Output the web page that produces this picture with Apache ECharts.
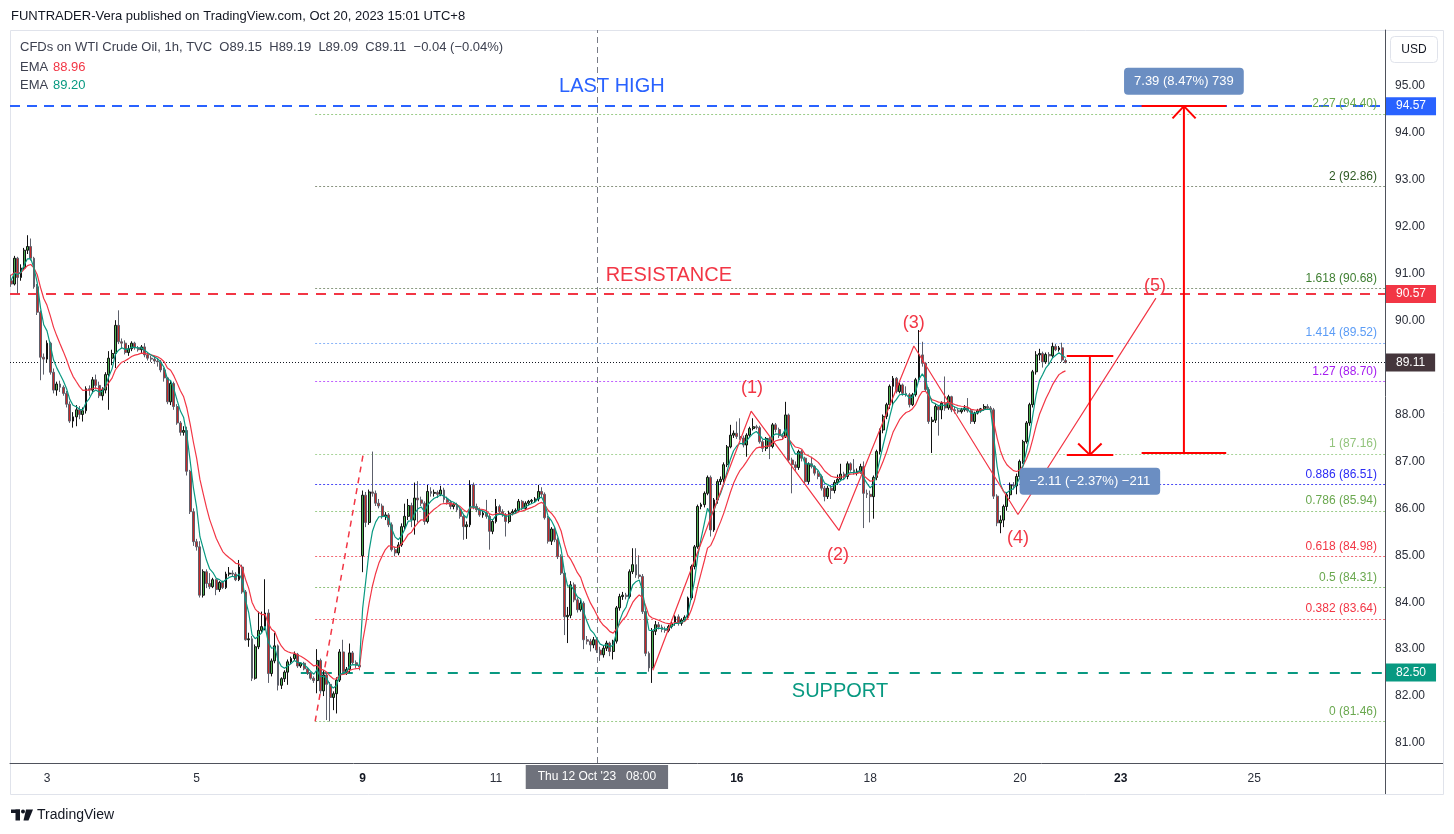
<!DOCTYPE html>
<html><head><meta charset="utf-8">
<script src="https://cdn.jsdelivr.net/npm/echarts@6/dist/echarts.min.js"></script>
<style>html,body{margin:0;padding:0;background:#fff}#c{width:1454px;height:834px}</style>
</head><body><div id="c"></div>
<script>
// ================= DATA =================
// hourly candles [open, high, low, close], bar 0 = Oct 2 13:00 (UTC+8)
const candles = [
[90.85,90.98,90.72,90.78],[90.78,91.38,90.75,91.33],[91.33,91.36,90.58,90.92],[90.92,91.20,90.85,91.12],[91.12,91.55,91.08,91.50],
[91.50,91.82,91.42,91.58],[91.58,91.75,91.28,91.33],[91.33,91.36,90.68,90.72],[90.72,90.78,90.12,90.18],[90.18,90.22,88.73,89.22],
[89.22,89.30,88.85,89.18],[89.18,89.58,89.10,89.52],[89.52,89.55,88.85,88.90],[88.90,88.98,88.45,88.52],[88.52,88.70,88.40,88.65],
[88.65,88.72,88.48,88.58],[88.58,88.62,88.40,88.45],[88.45,88.50,88.15,88.22],[88.22,88.28,87.82,87.86],[87.86,88.05,87.72,87.95],
[87.95,88.20,87.75,88.10],[88.10,88.18,87.90,88.00],[88.00,88.15,87.85,88.08],[88.08,88.60,88.02,88.55],[88.55,88.62,88.40,88.52],
[88.52,88.80,88.45,88.74],[88.74,88.85,88.55,88.62],[88.62,88.70,88.35,88.40],[88.40,88.58,88.30,88.52],[88.52,88.90,88.45,88.85],
[88.85,89.35,88.10,89.20],[89.20,89.38,89.05,89.30],[89.30,90.01,88.99,89.90],[89.90,90.22,89.50,89.55],[89.55,89.62,89.40,89.52],
[89.52,89.58,89.28,89.32],[89.32,89.48,89.25,89.40],[89.40,89.56,89.35,89.52],[89.52,89.55,89.38,89.42],[89.42,89.46,89.34,89.38],
[89.38,89.48,89.30,89.44],[89.44,89.52,89.22,89.27],[89.27,89.33,89.15,89.20],[89.20,89.25,89.12,89.18],[89.18,89.25,89.08,89.14],
[89.14,89.20,89.02,89.12],[89.12,89.16,88.90,88.95],[88.95,89.00,88.70,88.78],[88.78,88.80,88.22,88.27],[88.27,88.72,88.20,88.66],
[88.66,88.70,88.10,88.17],[88.17,88.22,87.78,87.82],[87.82,87.86,87.55,87.62],[87.62,87.75,87.55,87.66],[87.66,87.74,86.70,86.79],
[86.79,86.82,85.88,85.93],[85.93,86.00,85.20,85.29],[85.29,85.35,85.10,85.18],[85.18,85.30,84.10,84.15],[84.15,84.70,84.10,84.65],
[84.65,84.70,84.30,84.40],[84.40,84.62,84.28,84.33],[84.33,84.52,84.30,84.48],[84.48,84.50,84.15,84.27],[84.27,84.45,84.22,84.42],
[84.42,84.46,84.28,84.31],[84.31,84.65,84.28,84.60],[84.60,84.75,84.55,84.62],[84.62,84.68,84.55,84.60],[84.60,84.64,84.45,84.48],
[84.48,84.90,84.45,84.75],[84.75,84.80,84.18,84.22],[84.22,84.26,83.18,83.20],[83.20,83.35,83.05,83.22],[83.22,83.28,82.32,82.38],
[82.38,83.10,82.35,83.05],[83.05,83.80,83.00,83.40],[83.40,83.80,83.35,83.48],[83.48,84.49,83.40,83.77],[83.77,83.85,82.28,82.48],
[82.48,82.80,82.42,82.75],[82.75,83.35,82.70,83.07],[83.07,83.10,82.12,82.23],[82.23,82.40,82.15,82.37],[82.37,82.55,82.30,82.51],
[82.51,82.78,82.24,82.73],[82.73,82.84,82.68,82.80],[82.80,82.95,82.76,82.89],[82.89,82.92,82.60,82.64],[82.64,82.72,82.60,82.70],
[82.70,82.73,82.55,82.58],[82.58,82.60,82.45,82.49],[82.49,82.52,82.35,82.38],[82.38,82.42,82.28,82.33],[82.33,83.00,82.06,82.76],
[82.76,82.80,82.05,82.11],[82.11,82.55,82.00,82.45],[82.45,82.50,81.49,82.25],[82.25,82.30,81.46,81.97],[81.97,82.10,81.70,82.05],
[82.05,82.40,81.63,82.34],[82.34,83.00,82.30,82.94],[82.94,83.20,82.48,82.52],[82.52,82.62,82.45,82.57],[82.57,83.12,82.50,82.92],
[82.92,82.96,82.68,82.71],[82.71,82.76,82.60,82.66],[82.66,82.72,82.55,82.62],
[84.99,86.38,84.64,86.28],[86.28,86.35,85.60,85.70],
[85.70,86.40,85.65,86.35],[86.35,87.21,86.25,86.32],[86.32,86.38,86.05,86.11],[86.11,86.20,86.00,86.05],[86.05,86.10,85.78,85.83],
[85.83,85.92,85.75,85.86],[85.86,85.90,85.60,85.65],[85.65,85.70,85.08,85.12],[85.12,85.18,84.98,85.05],[85.05,85.28,85.00,85.22],
[85.22,85.68,85.18,85.61],[85.61,86.10,85.55,85.83],[85.83,86.20,85.75,86.06],[86.06,86.12,85.60,85.75],[85.75,86.55,85.44,86.22],
[86.22,86.58,85.70,86.18],[86.18,86.25,86.05,86.11],[86.11,86.15,85.65,85.72],[85.72,86.50,85.68,86.36],[86.36,86.45,86.25,86.32],
[86.32,86.40,86.25,86.34],[86.34,86.38,86.22,86.30],[86.30,86.48,86.26,86.39],[86.39,86.44,86.12,86.19],[86.19,86.25,86.08,86.13],
[86.13,86.18,85.98,86.04],[86.04,86.12,85.98,86.08],[86.08,86.12,85.92,85.97],[85.97,86.02,85.78,85.83],[85.83,85.88,85.33,85.61],
[85.61,85.72,85.35,85.65],[85.65,86.60,85.60,86.50],[86.50,86.55,85.98,86.04],[86.04,86.10,85.92,85.97],[85.97,86.02,85.82,85.86],
[85.86,85.95,85.80,85.90],[85.90,86.18,85.78,85.83],[85.83,85.88,85.12,85.51],[85.51,85.76,85.45,85.72],[85.72,86.20,85.68,86.04],
[86.04,86.08,85.88,85.93],[85.93,85.98,85.82,85.86],[85.86,85.90,85.40,85.72],[85.72,85.95,85.68,85.90],[85.90,85.98,85.85,85.93],
[85.93,86.00,85.88,85.96],[85.96,86.20,85.92,86.15],[86.15,86.18,85.96,86.00],[86.00,86.15,85.96,86.11],[86.11,86.18,86.06,86.15],
[86.15,86.20,86.10,86.17],[86.17,86.24,86.12,86.20],[86.20,86.50,86.15,86.36],[86.36,86.45,86.22,86.30],[86.30,86.34,85.76,85.80],
[85.80,85.84,85.25,85.30],[85.30,85.60,85.22,85.56],[85.56,85.60,85.28,85.33],[85.33,85.38,84.92,84.97],[84.97,85.02,84.58,84.62],
[84.62,84.66,83.30,83.69],[83.69,83.90,83.13,83.72],[83.72,84.45,83.66,84.37],[84.37,84.42,84.00,84.05],[84.05,84.10,83.78,83.84],
[83.84,84.05,83.80,83.98],[83.98,84.02,83.00,83.20],[83.20,83.28,83.10,83.17],[83.17,83.22,82.95,83.09],[83.09,83.26,83.02,83.20],
[83.20,83.24,82.92,82.98],[82.98,83.05,82.75,82.88],[82.88,83.08,82.82,83.02],[83.02,83.18,82.96,83.13],[83.13,83.16,82.85,82.95],
[82.95,83.20,82.78,83.17],[83.17,83.92,83.12,83.88],[83.88,84.18,83.82,84.12],[84.12,84.22,84.05,84.15],[84.15,84.20,84.06,84.12],
[84.12,84.70,84.08,84.65],[84.65,85.15,84.60,84.80],[84.80,85.15,84.52,84.58],[84.58,85.00,84.50,84.55],[84.55,84.60,83.75,83.80],
[83.80,83.85,82.85,82.91],[82.91,82.95,82.52,82.60],[82.60,83.45,82.28,83.38],[83.38,83.60,83.30,83.52],[83.52,83.58,83.42,83.47],
[83.47,83.52,83.36,83.42],[83.42,83.48,83.35,83.40],[83.40,83.52,83.36,83.48],[83.48,83.60,83.44,83.55],[83.55,83.72,83.50,83.69],
[83.69,83.74,83.50,83.55],[83.55,83.66,83.50,83.62],[83.62,83.72,83.58,83.68],[83.68,84.12,83.64,84.09],[84.09,84.80,84.05,84.76],
[84.76,85.22,84.70,85.18],[85.18,86.08,85.14,86.04],[86.04,86.12,85.98,86.08],[86.08,86.36,86.02,86.32],[86.32,86.70,86.28,86.66],
[86.66,86.70,85.40,85.54],[85.54,86.22,85.50,86.18],[86.18,86.62,86.10,86.57],[86.57,86.68,86.50,86.62],[86.62,86.98,86.55,86.93],
[86.93,87.35,86.88,87.31],[87.31,87.78,87.28,87.56],[87.56,87.66,87.50,87.60],[87.60,87.85,87.48,87.53],[87.53,87.92,87.46,87.50],
[87.50,87.55,87.30,87.35],[87.35,87.60,87.10,87.56],[87.56,87.74,87.52,87.70],[87.70,87.92,87.66,87.74],[87.74,87.78,87.68,87.72],
[87.72,87.76,87.38,87.42],[87.42,87.46,87.20,87.28],[87.28,87.52,87.22,87.49],[87.49,87.52,87.05,87.32],[87.32,87.82,87.28,87.78],
[87.78,87.82,87.62,87.68],[87.68,87.72,87.50,87.55],[87.55,87.60,87.46,87.53],[87.53,88.27,87.50,87.99],[87.99,88.02,86.98,87.03],
[87.03,87.08,86.32,86.93],[86.93,87.00,86.80,86.87],[86.87,87.25,86.82,87.21],[87.21,87.25,87.00,87.07],[87.07,87.10,86.52,86.57],
[86.57,86.98,86.52,86.95],[86.95,87.10,86.85,86.89],[86.89,86.92,86.70,86.75],[86.75,86.80,86.62,86.68],[86.68,86.72,86.38,86.43],
[86.43,86.48,86.15,86.25],[86.25,86.48,86.20,86.43],[86.43,86.50,86.20,86.38],[86.38,86.60,86.32,86.55],[86.55,86.72,86.50,86.62],
[86.62,86.95,86.58,86.73],[86.73,86.78,86.60,86.68],[86.68,87.00,86.62,86.95],[86.95,86.98,86.78,86.82],[86.82,87.05,86.72,86.77],
[86.77,86.85,86.70,86.79],[86.79,86.95,86.74,86.89],[86.89,87.00,85.58,86.32],[86.32,86.40,86.22,86.30],[86.30,86.38,85.70,86.25],
[86.25,86.70,85.78,86.66],[86.66,87.25,86.60,87.21],[87.21,87.70,87.15,87.67],[87.67,88.00,87.60,87.96],[87.96,88.25,87.90,88.21],
[88.21,88.64,88.12,88.60],[88.60,88.82,88.20,88.77],[88.77,88.80,88.45,88.49],[88.49,88.68,88.45,88.63],[88.63,88.66,88.40,88.45],
[88.45,88.60,88.38,88.42],[88.42,88.46,88.15,88.21],[88.21,88.46,88.18,88.42],[88.42,88.78,88.38,88.74],[88.74,89.80,88.70,89.27],
[89.27,89.55,89.02,89.09],[89.09,89.12,88.48,88.53],[88.53,88.58,87.80,87.85],[87.85,87.95,87.18,87.88],[87.88,88.22,87.82,88.17],
[88.17,88.20,87.55,88.10],[88.10,88.28,87.90,88.24],[88.24,88.81,88.08,88.14],[88.14,88.42,88.10,88.38],[88.38,88.40,88.05,88.10],
[88.10,88.16,88.02,88.08],[88.08,88.12,88.02,88.06],[88.06,88.14,88.02,88.10],[88.10,88.20,88.06,88.14],[88.14,88.35,88.04,88.08],
[88.08,88.12,87.80,87.85],[87.85,88.06,87.80,88.03],[88.03,88.12,88.00,88.08],[88.08,88.14,88.04,88.12],[88.12,88.22,88.08,88.17],
[88.17,88.22,88.10,88.14],[88.14,88.18,88.05,88.10],[88.10,88.14,86.20,86.26],[86.26,86.30,85.62,85.69],[85.69,85.85,85.47,85.75],
[85.75,86.08,85.60,86.04],[86.04,86.33,85.95,86.29],[86.29,86.55,86.20,86.50],[86.50,86.56,86.40,86.48],[86.48,86.74,86.30,86.68],
[86.68,87.04,86.62,87.00],[87.00,87.46,86.95,87.42],[87.42,87.86,87.38,87.82],[87.82,88.25,87.76,88.21],[88.21,88.95,88.15,88.91],
[88.91,89.35,88.85,89.27],[89.27,89.40,89.15,89.30],[89.30,89.34,89.00,89.12],[89.12,89.32,89.08,89.28],[89.28,89.33,89.05,89.25],
[89.25,89.53,89.20,89.45],[89.45,89.50,89.35,89.38],[89.38,89.46,89.34,89.42],[89.42,89.53,89.12,89.16],[89.15,89.19,89.09,89.11]
];

// time axis (bar index) tick labels
const xTicks = [11, 57, 108, 149, 223, 264, 310, 341, 382];
const xTickLabels = ['3', '5', '9', '11', '16', '18', '20', '23', '25'];
const xTickBold = ['9', '16', '23'];
const yTicks = [81,82,83,84,85,86,87,88,89,90,91,92,93,94,95];

// EMA indicators (periods, value just before the first bar)
const emaPeriods = [5, 12];
const emaSeeds = [90.90, 91.00];

// Fibonacci levels
const fibRatios = ['0','0.382','0.5','0.618','0.786','0.886','1','1.27','1.414','1.618','2','2.27'];
const fibValues = [81.46, 83.64, 84.31, 84.98, 85.94, 86.51, 87.16, 88.70, 89.52, 90.68, 92.86, 94.40];
const fibStartBar = 93.4;
const fibTrend = [[93.4, 81.46], [108.2, 87.16]];

// key horizontal levels
const lastHigh = 94.57;
const resistance = 90.57;
const support = 82.50;
const supportStartBar = 89;
const lastPrice = 89.11;

// Elliott wave count
const wavePath = [[197.2, 82.55], [227.4, 88.07], [254.4, 85.53], [277.4, 89.46], [309.4, 85.87], [351.8, 90.48]];
const waveNames = ['(1)', '(2)', '(3)', '(4)', '(5)'];
const waveLabelAt = [[227.7, 88.56], [254.1, 85.00], [277.4, 89.95], [309.4, 85.36], [351.5, 90.74]];

// text notes
const noteTexts = ['LAST HIGH', 'RESISTANCE', 'SUPPORT'];
const noteAt = [[184.6, 94.98], [202.1, 90.97], [254.7, 82.10]];

// price range measurements
const measureBar = [360.4, 331.5];
const measureFrom = [87.18, 89.25];
const measureTo = [94.57, 87.14];
const measureSpan = [[347.4, 373.4], [324.4, 338.7]];
const measureHead = [[356.9, 364.0, 94.31], [327.9, 335.1, 87.38]];
const measureText = ['7.39 (8.47%) 739', '\u22122.11 (\u22122.37%) \u2212211'];
const measureTextAt = [[360.4, 95.10], [331.5, 86.58]];

// crosshair
const crossBar = 180;
const crossText = "Thu 12 Oct '23   08:00";

// legend texts
const headerText = 'FUNTRADER-Vera published on TradingView.com, Oct 20, 2023 15:01 UTC+8';
const legendText = 'CFDs on WTI Crude Oil, 1h, TVC  O89.15  H89.19  L89.09  C89.11  \u22120.04 (\u22120.04%)';
const emaLegend = ['88.96', '89.20'];

// ================= LAYOUT / STYLE =================
const FONT = '"Liberation Sans", Arial, sans-serif';
const xMin = -0.37, xMax = 422.2;
const yMin = 80.574, yMax = 96.193;
const fibLabelColor = {'0':'#6aa84f','0.382':'#f23645','0.5':'#6aa84f','0.618':'#f23645','0.786':'#6aa84f','0.886':'#2b2bf5','1':'#93c47d','1.27':'#a51cf0','1.414':'#5b9cf6','1.618':'#3f7f32','2':'#2d5a22','2.27':'#6aa84f'};
const fibLineColor = {'0':'#9ccc8a','0.382':'#f26b75','0.5':'#8fc27a','0.618':'#f26b75','0.786':'#9ccc8a','0.886':'#4a4af5','1':'#a9d49a','1.27':'#c060ff','1.414':'#8ab4f8','1.618':'#8a9a80','2':'#8a9480','2.27':'#9ccc8a'};

function ema(values, period, seed) {
  const a = 2 / (period + 1);
  let e = seed;
  return values.map(v => { e = e + a * (v - e); return e; });
}
const closes = candles.map(c => c[3]);
const emaFast = ema(closes, emaPeriods[0], emaSeeds[0]);
const emaSlow = ema(closes, emaPeriods[1], emaSeeds[1]);

function tag(color, value) {
  return { show: true, position: 'end', distance: 1, formatter: () => value.toFixed(2),
    backgroundColor: color, color: '#fff', padding: [3, 10, 3, 10], fontSize: 12, lineHeight: 12, fontFamily: FONT };
}

const fibLines = fibRatios.map((r, i) => [
  { coord: [fibStartBar, fibValues[i]],
    lineStyle: { color: fibLineColor[r], type: [2, 2], width: 1 },
    label: { show: true, position: 'insideEndTop', distance: [8, 4], formatter: () => r + ' (' + fibValues[i].toFixed(2) + ')',
      color: fibLabelColor[r], fontSize: 12, fontFamily: FONT } },
  { coord: [xMax, fibValues[i]] }
]);

const levelLines = [
  { yAxis: lastHigh, lineStyle: { color: '#2962ff', type: [10, 7], width: 2 }, label: tag('#2962ff', lastHigh) },
  { yAxis: resistance, lineStyle: { color: '#f23645', type: [10, 8], width: 2 }, label: tag('#f23645', resistance) },
  { yAxis: lastPrice, lineStyle: { color: '#131722', type: [1, 2], width: 1 }, label: tag('#45363c', lastPrice) },
  [ { coord: [supportStartBar, support], lineStyle: { color: '#089981', type: [10, 11], width: 2 }, label: tag('#089981', support) },
    { coord: [xMax, support] } ],
  [ { coord: [crossBar, yMin], lineStyle: { color: '#787b86', type: [6, 4], width: 1 },
      label: { show: true, position: 'start', distance: 2, formatter: crossText, backgroundColor: '#6f727c', color: '#fff',
        padding: [6, 12, 6, 12], fontSize: 12, lineHeight: 12, fontFamily: FONT } },
    { coord: [crossBar, yMax] } ]
];

function measureSegments(i) {
  const s = measureSpan[i], h = measureHead[i];
  return [
    [{ coord: [s[0], measureFrom[i]] }, { coord: [s[1], measureFrom[i]] }],
    [{ coord: [s[0], measureTo[i]] }, { coord: [s[1], measureTo[i]] }],
    [{ coord: [h[0], h[2]] }, { coord: [measureBar[i], measureTo[i]] }],
    [{ coord: [h[1], h[2]] }, { coord: [measureBar[i], measureTo[i]] }]
  ];
}
function measureSeries(i) {
  return {
    type: 'line', data: [[measureBar[i], measureFrom[i]], [measureBar[i], measureTo[i]]], symbol: 'none', z: 6,
    lineStyle: { color: '#ff0000', width: 2 }, silent: true,
    markLine: { silent: true, symbol: 'none', z: 6, animation: false, label: { show: false },
      lineStyle: { color: '#ff0000', width: 2, type: 'solid' }, data: measureSegments(i) }
  };
}

const noteColors = ['#2962ff', '#f23645', '#089981'];
const hiddenDot = { color: 'rgba(0,0,0,0)', opacity: 1 };

const option = {
  animation: false,
  backgroundColor: '#ffffff',
  grid: { left: 10, right: 69, top: 30, bottom: 71, containLabel: false },
  xAxis: {
    type: 'value', min: xMin, max: xMax,
    axisLine: { show: true, onZero: false, lineStyle: { color: '#4f525c', width: 1 } },
    axisTick: { show: false }, splitLine: { show: false },
    axisLabel: {
      customValues: xTicks, margin: 10, fontSize: 12, color: '#2a2e39', fontFamily: FONT,
      formatter: v => { const i = xTicks.indexOf(Math.round(v)); if (i < 0) return ''; const t = xTickLabels[i]; return xTickBold.includes(t) ? '{b|' + t + '}' : t; },
      rich: { b: { fontWeight: 'bold', fontSize: 12, color: '#131722', fontFamily: FONT } }
    }
  },
  yAxis: {
    type: 'value', position: 'right', min: yMin, max: yMax, scale: true,
    axisLine: { show: true, onZero: false, lineStyle: { color: '#4f525c', width: 1 } },
    axisTick: { show: false }, splitLine: { show: false },
    axisLabel: { customValues: yTicks, formatter: v => v.toFixed(2), margin: 10, fontSize: 12, color: '#2a2e39', fontFamily: FONT }
  },
  series: [
    { // fib trend line + all horizontal levels (behind candles)
      type: 'line', data: fibTrend, symbol: 'none', z: 1, silent: true,
      lineStyle: { color: '#f23645', width: 1.5, type: [6, 5] },
      markLine: { silent: true, symbol: 'none', z: 1, animation: false, label: { show: false }, data: fibLines.concat(levelLines) }
    },
    {
      type: 'candlestick', name: 'WTI', z: 3,
      data: candles.map((c, i) => [i, c[0], c[3], c[2], c[1]]),
      barWidth: 2.4,
      itemStyle: { color: '#4caf50', color0: '#c62828', borderColor: '#111111', borderColor0: '#5d606b', borderWidth: 1 }
    },
    { type: 'line', data: emaSlow.map((v, i) => [i, v]), symbol: 'none', z: 4, silent: true, lineStyle: { color: '#f23645', width: 1.2 } },
    { type: 'line', data: emaFast.map((v, i) => [i, v]), symbol: 'none', z: 4, silent: true, lineStyle: { color: '#089981', width: 1.2 } },
    { type: 'line', data: wavePath, symbol: 'none', z: 5, silent: true, lineStyle: { color: '#f23645', width: 1.2 } },
    measureSeries(0),
    measureSeries(1),
    { // wave labels
      type: 'scatter', z: 8, symbolSize: 1, itemStyle: hiddenDot, silent: true,
      data: waveNames.map((n, i) => ({ name: n, value: waveLabelAt[i] })),
      label: { show: true, position: 'inside', formatter: '{b}', color: '#f23645', fontSize: 18, fontFamily: FONT }
    },
    { // notes
      type: 'scatter', z: 8, symbolSize: 1, itemStyle: hiddenDot, silent: true,
      data: noteTexts.map((n, i) => ({ name: n, value: noteAt[i], label: { color: noteColors[i] } })),
      label: { show: true, position: 'inside', formatter: '{b}', fontSize: 20, fontWeight: 500, fontFamily: FONT }
    },
    { // measurement labels
      type: 'scatter', z: 9, symbolSize: 1, itemStyle: hiddenDot, silent: true,
      data: measureText.map((n, i) => ({ name: n, value: measureTextAt[i] })),
      label: { show: true, position: 'inside', formatter: '{b}', color: '#ffffff', fontSize: 13, lineHeight: 13, fontFamily: FONT,
        backgroundColor: '#6b8ec2', borderRadius: 4, padding: [7, 10, 7, 10] }
    }
  ],
  graphic: { elements: [
    { type: 'rect', silent: true, z: -10, shape: { x: 10.5, y: 30.5, width: 1433, height: 764 }, style: { fill: 'none', stroke: '#e0e3eb', lineWidth: 1 } },
    { type: 'line', silent: true, shape: { x1: 1385.5, y1: 763, x2: 1385.5, y2: 794 }, style: { stroke: '#4f525c', lineWidth: 1 } },
    { type: 'line', silent: true, shape: { x1: 1385, y1: 763.5, x2: 1443, y2: 763.5 }, style: { stroke: '#4f525c', lineWidth: 1 } },
    { type: 'text', silent: true, x: 11, y: 16, style: { text: headerText, font: '13px ' + FONT, fill: '#131722', verticalAlign: 'middle' } },
    { type: 'text', silent: true, x: 20, y: 47, style: { text: legendText, font: '13px ' + FONT, fill: '#3d4150', verticalAlign: 'middle' } },
    { type: 'text', silent: true, x: 20, y: 67, style: { text: 'EMA', font: '13px ' + FONT, fill: '#3d4150', verticalAlign: 'middle' } },
    { type: 'text', silent: true, x: 53, y: 67, style: { text: emaLegend[0], font: '13px ' + FONT, fill: '#f23645', verticalAlign: 'middle' } },
    { type: 'text', silent: true, x: 20, y: 85, style: { text: 'EMA', font: '13px ' + FONT, fill: '#3d4150', verticalAlign: 'middle' } },
    { type: 'text', silent: true, x: 53, y: 85, style: { text: emaLegend[1], font: '13px ' + FONT, fill: '#089981', verticalAlign: 'middle' } },
    { type: 'rect', silent: true, shape: { x: 1390.5, y: 36.5, width: 47, height: 26, r: 4 }, style: { fill: '#fff', stroke: '#e0e3eb', lineWidth: 1 } },
    { type: 'text', silent: true, x: 1414, y: 49.5, style: { text: 'USD', font: '12px ' + FONT, fill: '#131722', align: 'center', verticalAlign: 'middle' } },
    { type: 'rect', silent: true, shape: { x: 11, y: 809.5, width: 9, height: 3.5 }, style: { fill: '#131722' } },
    { type: 'rect', silent: true, shape: { x: 15.5, y: 809.5, width: 4.5, height: 11 }, style: { fill: '#131722' } },
    { type: 'circle', silent: true, shape: { cx: 23, cy: 811.5, r: 2 }, style: { fill: '#131722' } },
    { type: 'polygon', silent: true, shape: { points: [[26, 809.5], [33, 809.5], [28.5, 820.5], [23.5, 820.5]] }, style: { fill: '#131722' } },
    { type: 'text', silent: true, x: 37, y: 815, style: { text: 'TradingView', font: '14px ' + FONT, fill: '#131722', verticalAlign: 'middle' } }
  ] }
};

const chart = echarts.init(document.getElementById('c'), null, { renderer: 'canvas', width: 1454, height: 834 });
chart.setOption(option);
</script>
</body></html>
